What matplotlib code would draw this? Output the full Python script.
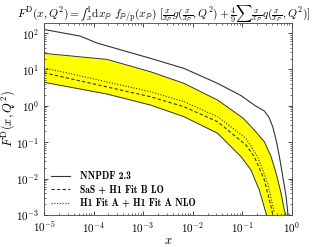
import numpy as np
import matplotlib
matplotlib.use('Agg')
from matplotlib import pyplot as plt

plt.rcParams['font.family'] = 'serif'
plt.rcParams['font.serif'] = ['cmr10']
plt.rcParams['mathtext.fontset'] = 'cm'
plt.rcParams['axes.formatter.use_mathtext'] = True
plt.rcParams['axes.unicode_minus'] = False

# NNPDF 2.3
x_nn = [1e-5, 5.37e-5, 1.19e-4, 1.41e-3, 6.7e-3, 0.0319, 0.0946, 0.176, 0.281, 0.355,
        0.416, 0.485, 0.566, 0.663, 0.773, 0.845]
nnpdf = [126, 82.8, 53, 20.2, 10.7, 4.15, 1.92, 1.05, 0.72, 0.462,
         0.262, 0.115, 0.040, 0.0113, 0.0032, 0.001]

# band edges
x_hi = [1e-5, 1.87e-4, 1.41e-3, 6.7e-3, 0.0319, 0.104, 0.176, 0.281, 0.384, 0.485, 0.612, 0.714, 0.77]
band_hi = [27.7, 18.9, 8.65, 4.15, 1.44, 0.462, 0.216, 0.103, 0.040, 0.014, 0.00394, 0.0013, 0.001]
x_lo = [1e-5, 1.87e-4, 1.41e-3, 6.7e-3, 0.0319, 0.0946, 0.151, 0.222, 0.304, 0.31]
band_lo = [4.43, 2.11, 1.05, 0.502, 0.176, 0.040, 0.0172, 0.00486, 0.00111, 0.001]

# SaS + H1 Fit B LO
x_sas = [1e-5, 1.41e-3, 6.7e-3, 0.0319, 0.119, 0.176, 0.281, 0.384, 0.416]
sas = [8.1, 1.78, 0.944, 0.366, 0.0838, 0.040, 0.00916, 0.00169, 0.001]

# H1 Fit A + H1 Fit A NLO
x_h1 = [1e-5, 1.41e-3, 6.7e-3, 0.0319, 0.119, 0.206, 0.329, 0.448]
h1a = [11.1, 2.44, 1.30, 0.502, 0.128, 0.040, 0.0074, 0.00111]

fig = plt.figure(figsize=(3.17, 2.47), dpi=100)
ax = fig.add_axes([0.139, 0.130, 0.783, 0.777])

x_fill = np.unique(np.concatenate([x_hi, x_lo]))
lo_fill = np.interp(np.log(x_fill), np.log(x_lo), np.log(band_lo), right=np.log(1e-4))
hi_fill = np.interp(np.log(x_fill), np.log(x_hi), np.log(band_hi))
ax.fill_between(x_fill, np.exp(lo_fill), np.exp(hi_fill), color='#ffff00', lw=0)
ax.plot(x_hi, band_hi, color='#333333', lw=0.7)
ax.plot(x_lo, band_lo, color='#333333', lw=0.7)
ax.plot(x_nn, nnpdf, color='#333333', lw=0.8, label='NNPDF 2.3')
ax.plot(x_sas, sas, color='#333333', lw=0.8, ls=(0, (3, 2)), label='SaS + H1 Fit B LO')
ax.plot(x_h1, h1a, color='#333333', lw=0.8, ls=(0, (1, 1.5)), label='H1 Fit A + H1 Fit A NLO')

ax.set_xscale('log')
ax.set_yscale('log')
ax.set_xlim(1e-5, 1.03)
ax.set_ylim(1e-3, 1.9e2)
ax.tick_params(which='both', direction='in', top=True, right=True, labelsize=8)
ax.tick_params(which='major', length=3, width=0.5)
ax.tick_params(which='minor', length=1.5, width=0.4)
for s in ax.spines.values():
    s.set_linewidth(0.6)
    s.set_color('#444444')

ax.set_xlabel(r'$x$', fontsize=9, labelpad=0)
ax.set_ylabel(r'$F^{\mathrm{D}}(x,Q^2)$', fontsize=9)
ax.yaxis.set_label_coords(-0.108, 0.5)
fig.text(0.515, 0.985, '$F^{\\mathrm{D}}(x,Q^2) = \\mathrm{\u222b}_x^1 \\mathrm{d}x_{\\mathbb{P}}\\ '
         'f_{\\mathbb{P}/\\mathrm{p}}(x_{\\mathbb{P}})\\ '
         '[\\frac{x}{x_{\\mathbb{P}}}g(\\frac{x}{x_{\\mathbb{P}}},Q^2) + \\frac{4}{9}\\sum\\frac{x}{x_{\\mathbb{P}}}'
         'q(\\frac{x}{x_{\\mathbb{P}}},Q^2)]$', fontsize=8.2, ha='center', va='top')

ax.legend(loc='lower left', bbox_to_anchor=(0.0, 0.0), frameon=False, borderaxespad=0.3,
          prop={'family': 'cmb10', 'size': 7}, handlelength=2.0, handletextpad=1.0,
          labelspacing=0.35)

fig.savefig('out.png', dpi=100)
